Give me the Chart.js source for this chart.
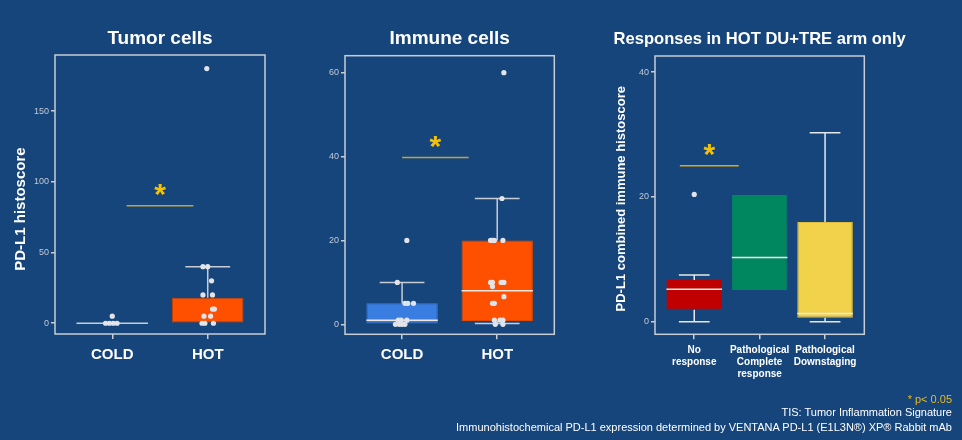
<!DOCTYPE html>
<html>
<head>
<meta charset="utf-8">
<script src="https://cdn.jsdelivr.net/npm/chart.js@4/dist/chart.umd.min.js"></script>
<style>
  html, body { margin: 0; padding: 0; background: #16457b; }
  #wrap { position: relative; width: 962px; height: 440px; overflow: hidden; font-family: "Liberation Sans", Arial, sans-serif; }
  canvas { position: absolute; left: 0; top: 0; }
  .foot { position: absolute; right: 10px; text-align: right; font-size: 11px; line-height: 14px; color: #ffffff; white-space: nowrap; }
</style>
</head>
<body>
<div id="wrap">
  <canvas id="tumor" width="962" height="440"></canvas>
  <canvas id="immune" width="962" height="440"></canvas>
  <canvas id="resp" width="962" height="440"></canvas>
  <div class="foot" style="top:392px;color:#e8b923;">* p&lt; 0.05</div>
  <div class="foot" style="top:405px;">TIS: Tumor Inflammation Signature</div>
  <div class="foot" style="top:420px;">Immunohistochemical PD-L1 expression determined by VENTANA PD-L1 (E1L3N®) XP® Rabbit mAb</div>
</div>
<script>
// Tumor cells panel
const tumorCats = ['COLD', 'HOT'];
const tumorQ1 = [0, 0];
const tumorMed = [0, null];
const tumorQ3 = [0, 18];
const tumorLo = [0, 0];
const tumorHi = [0, 40];
const tumorPts = [[0.93, 0], [0.97, 0], [1.01, 0], [1.05, 0], [1.0, 5],
  [1.94, 0], [1.97, 0], [2.06, 0], [1.96, 5], [2.03, 5], [2.05, 10], [2.07, 10],
  [1.95, 20], [2.05, 20], [2.04, 30], [1.95, 40], [2.0, 40], [1.99, 180]];
const tumorTicks = [0, 50, 100, 150];
const tumorSig = [1.15, 1.85, 83];

// Immune cells panel
const immuneCats = ['COLD', 'HOT'];
const immuneQ1 = [0, 0.8];
const immuneMed = [1, 8];
const immuneQ3 = [5, 20];
const immuneLo = [0, 0.2];
const immuneHi = [10, 30];
const immunePts = [[0.93, 0], [0.97, 0], [1.0, 0], [1.03, 0], [0.96, 1], [0.99, 1], [1.05, 1],
  [1.03, 5], [1.06, 5], [1.12, 5], [0.95, 10], [1.05, 20],
  [1.98, 0], [2.06, 0], [1.97, 1], [2.03, 1], [2.06, 1], [1.95, 5], [1.97, 5], [2.07, 6.6],
  [1.95, 9], [1.93, 10], [1.95, 10], [2.04, 10], [2.07, 10],
  [1.93, 20], [1.95, 20], [1.97, 20], [2.06, 20], [2.05, 30], [2.07, 60]];
const immuneTicks = [0, 20, 40, 60];
const immuneSig = [1.0, 1.7, 39.8];

// Responses panel
const respCats = [['No', 'response'], ['Pathological', 'Complete', 'response'], ['Pathological', 'Downstaging']];
const respQ1 = [1.9, 5.1, 0.65];
const respMed = [5.2, 10.3, 1.3];
const respQ3 = [6.7, 20.3, 16];
const respLo = [0, 5.1, 0];
const respHi = [7.5, 20.3, 30.3];
const respPts = [[1, 20.4]];
const respTicks = [0, 20, 40];
const respSig = [0.78, 1.68, 25];

const FRAME = '#c8cdd5';
const CAP = 0.235;

Chart.defaults.font.family = '"Liberation Sans", Arial, sans-serif';

function whiskerData(q1, q3, lo, hi) {
  const d = [];
  q1.forEach((v, i) => {
    const x = i + 1;
    if (hi[i] > q3[i]) {
      d.push({x: x, y: q3[i]}, {x: x, y: hi[i]}, {x: x, y: null});
      d.push({x: x - CAP, y: hi[i]}, {x: x + CAP, y: hi[i]}, {x: x, y: null});
    }
    if (lo[i] < q1[i]) {
      d.push({x: x, y: q1[i]}, {x: x, y: lo[i]}, {x: x, y: null});
      d.push({x: x - CAP, y: lo[i]}, {x: x + CAP, y: lo[i]}, {x: x, y: null});
    }
  });
  return d;
}

function medianData(med, half) {
  const d = [];
  med.forEach((m, i) => {
    if (m === null) return;
    d.push({x: i + 1 - half, y: m}, {x: i + 1 + half, y: m}, {x: i + 1, y: null});
  });
  return d;
}

const framePlugin = {
  id: 'frame',
  afterDraw(chart) {
    const a = chart.chartArea, ctx = chart.ctx;
    ctx.save();
    ctx.strokeStyle = FRAME;
    ctx.lineWidth = 1.5;
    ctx.strokeRect(a.left, a.top, a.right - a.left, a.bottom - a.top);
    ctx.restore();
  }
};

const starPlugin = {
  id: 'star',
  afterDatasetsDraw(chart, args, opts) {
    const sig = opts.sig;
    if (!sig) return;
    const ctx = chart.ctx;
    const x = chart.scales.x.getPixelForValue((sig[0] + sig[1]) / 2);
    const y = chart.scales.y.getPixelForValue(sig[2]) - 18;
    ctx.save();
    ctx.fillStyle = '#f7c100';
    ctx.font = 'bold 30px "Liberation Sans", Arial, sans-serif';
    ctx.textAlign = 'center';
    ctx.textBaseline = 'alphabetic';
    ctx.fillText('*', x, y + 16.6);
    ctx.restore();
  }
};

function makePanel(id, p) {
  const half = p.boxWidth / 2;
  new Chart(document.getElementById(id), {
    type: 'bar',
    data: {
      datasets: [
        {
          type: 'scatter',
          data: p.pts.map(v => ({x: v[0], y: v[1]})),
          pointRadius: 2.6,
          pointBackgroundColor: '#e2e4e9',
          pointBorderWidth: 0,
          order: 0
        },
        {
          type: 'line',
          data: medianData(p.med, half),
          borderColor: p.medColor,
          borderWidth: 1.5,
          pointRadius: 0,
          order: 1
        },
        {
          type: 'line',
          data: whiskerData(p.q1, p.q3, p.lo, p.hi),
          borderColor: p.whiskerColor,
          borderWidth: 1.5,
          pointRadius: 0,
          order: 2
        },
        {
          type: 'line',
          data: [{x: p.sig[0], y: p.sig[2]}, {x: p.sig[1], y: p.sig[2]}],
          borderColor: p.sigColor,
          borderWidth: 1.5,
          pointRadius: 0,
          order: 2
        },
        {
          type: 'bar',
          data: p.q1.map((v, i) => ({x: i + 1, y: [p.q1[i], p.q3[i]]})),
          backgroundColor: p.colors,
          borderColor: p.borders,
          borderWidth: 1,
          borderSkipped: false,
          barPercentage: p.boxWidth,
          categoryPercentage: 1,
          order: 3
        }
      ]
    },
    options: {
      responsive: false,
      animation: false,
      events: [],
      layout: { padding: p.padding },
      plugins: {
        legend: { display: false },
        tooltip: { enabled: false },
        title: {
          display: true,
          text: p.title,
          color: '#ffffff',
          font: { size: p.titleSize, weight: 'bold' },
          padding: p.titlePad
        },
        star: { sig: p.sig }
      },
      scales: {
        x: {
          type: 'linear',
          min: 0.4,
          max: p.cats.length + 0.6,
          offset: false,
          afterBuildTicks: s => { s.ticks = p.cats.map((c, i) => ({value: i + 1})); },
          afterFit: s => { s.height = 60; },
          ticks: {
            callback: (v, i) => p.cats[i],
            color: '#ffffff',
            font: { size: p.catSize, weight: 'bold', lineHeight: p.catLine },
            padding: p.catPad,
            maxRotation: 0,
            autoSkip: false
          },
          grid: { display: true, drawOnChartArea: false, drawTicks: true, tickLength: 5, color: FRAME, lineWidth: 1.5, offset: false },
          border: { display: false }
        },
        y: {
          type: 'linear',
          min: p.yMin,
          max: p.yMax,
          afterBuildTicks: s => { s.ticks = p.yTicks.map(v => ({value: v})); },
          afterFit: s => { s.width = p.yWidth; },
          ticks: { color: '#c3c9d3', font: { size: 9 }, padding: 2 },
          grid: { display: true, drawOnChartArea: false, drawTicks: true, tickLength: 4, color: FRAME, lineWidth: 1.5 },
          border: { display: false },
          title: {
            display: !!p.yTitle,
            text: p.yTitle,
            color: '#ffffff',
            font: { size: p.yTitleSize, weight: 'bold' },
            padding: { top: p.yTitlePad, bottom: 0 }
          }
        },
        // empty right-hand axis, same width as the left one, so the title centres over the plot
        yRight: {
          axis: 'y',
          position: 'right',
          grid: { display: false },
          ticks: { display: false },
          border: { display: false },
          afterFit: s => { s.width = p.yWidth; }
        }
      }
    },
    plugins: [framePlugin, starPlugin]
  });
}

makePanel('tumor', {
  title: 'Tumor cells', titleSize: 19, titlePad: {top: 26.9, bottom: 5.3},
  cats: tumorCats, q1: tumorQ1, med: tumorMed, q3: tumorQ3, lo: tumorLo, hi: tumorHi,
  pts: tumorPts, yTicks: tumorTicks, sig: tumorSig,
  yMin: -7.6, yMax: 189.6, yWidth: 45,
  yTitle: 'PD-L1 histoscore' + '       ', yTitleSize: 15, yTitlePad: 1.5,
  padding: {left: 10, right: 652, top: 0, bottom: 46},
  boxWidth: 0.75, catSize: 15, catLine: 1.2, catPad: 7,
  colors: ['#3a7de0', '#ff5000'], borders: ['#c8cdd5', '#c84400'],
  medColor: '#c8cdd5', whiskerColor: '#c8cdd5', sigColor: '#c4a43a'
});

makePanel('immune', {
  title: 'Immune cells', titleSize: 19, titlePad: {top: 26.9, bottom: 6.0},
  cats: immuneCats, q1: immuneQ1, med: immuneMed, q3: immuneQ3, lo: immuneLo, hi: immuneHi,
  pts: immunePts, yTicks: immuneTicks, sig: immuneSig,
  yMin: -2.38, yMax: 64.06, yWidth: 40,
  yTitle: '', yTitleSize: 15, yTitlePad: 0,
  padding: {left: 305, right: 367.7, top: 0, bottom: 45.7},
  boxWidth: 0.75, catSize: 15, catLine: 1.2, catPad: 7,
  colors: ['#3a7de0', '#ff5000'], borders: ['#3a7de0', '#e04800'],
  medColor: '#f3e6dc', whiskerColor: '#c8cdd5', sigColor: '#c4a43a'
});

makePanel('resp', {
  title: 'Responses in HOT DU+TRE arm only', titleSize: 17, titlePad: {top: 28.8, bottom: 6.8},
  cats: respCats, q1: respQ1, med: respMed, q3: respQ3, lo: respLo, hi: respHi,
  pts: respPts, yTicks: respTicks, sig: respSig,
  yMin: -2.02, yMax: 42.6, yWidth: 41.5,
  yTitle: 'PD-L1 combined immune histoscore' + '  ', yTitleSize: 13, yTitlePad: 0,
  padding: {left: 613.5, right: 56.2, top: 0, bottom: 45.7},
  boxWidth: 0.85, catSize: 10, catLine: 1.2, catPad: 5,
  colors: ['#c00000', '#008760', '#f2d14b'], borders: ['#c00000', '#008760', '#e0bc3a'],
  medColor: '#f3ece4', whiskerColor: '#e6e8ec', sigColor: '#e8a800'
});
</script>
</body>
</html>
